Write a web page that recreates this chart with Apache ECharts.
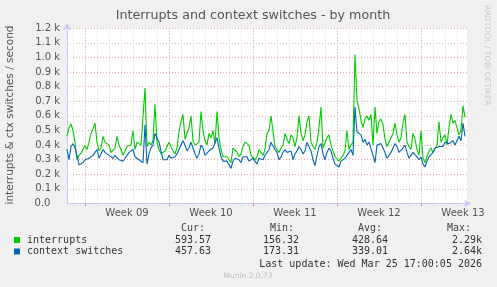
<!DOCTYPE html>
<html>
<head>
<meta charset="utf-8">
<script src="https://cdn.jsdelivr.net/npm/echarts@6/dist/echarts.min.js"></script>
<style>
html,body{margin:0;padding:0;background:#f0f0f0;}
#chart{width:497px;height:287px;}
</style>
</head>
<body>
<div id="chart"></div>
<script>
// ---- data (one sample per ~4 hours, ~33 days) ----
const interrupts = [
460,520,545,500,420,300,330,345,370,395,370,420,480,510,550,420,360,380,460,420,
430,400,350,340,380,460,400,370,330,360,390,385,400,500,370,420,430,400,410,790,
390,420,400,430,680,420,370,340,345,360,370,420,410,360,340,380,490,560,610,440,
440,520,600,430,400,390,420,630,500,430,400,480,450,500,410,630,450,370,320,330,
320,300,280,380,370,350,320,340,390,420,410,400,330,340,300,320,370,380,330,370,
480,500,600,590,390,380,350,380,400,480,440,410,470,450,390,450,600,480,430,470,
560,600,420,390,370,420,520,660,380,390,450,470,400,360,320,310,290,310,330,360,
500,370,400,420,1020,700,650,570,520,580,600,570,610,400,660,480,560,580,540,440,
390,380,450,480,550,470,420,450,550,610,420,390,370,480,440,370,330,500,310,280,
320,360,380,350,360,400,560,420,450,470,400,520,610,550,570,560,470,500,670,590
];
const contextSwitches = [
370,300,390,410,380,330,265,265,280,300,300,310,320,330,350,370,310,300,370,350,
360,330,320,310,330,340,300,290,290,310,330,350,360,370,320,330,300,310,280,540,
270,340,380,400,480,470,420,360,300,300,300,330,310,300,320,340,370,400,430,400,
360,380,420,380,340,310,340,400,380,330,320,360,370,380,390,450,380,320,290,290,
290,280,240,290,310,300,300,280,320,310,320,290,280,310,290,270,310,320,300,330,
350,370,420,410,370,350,300,320,350,370,350,340,360,300,340,360,390,370,340,360,
420,410,360,300,260,330,390,410,340,300,350,380,360,310,270,260,250,290,300,310,
300,350,370,330,660,490,480,470,420,440,400,420,410,330,280,400,400,410,380,350,
310,320,350,380,410,390,350,340,380,400,350,310,310,350,350,320,300,320,270,250,
290,320,330,350,380,370,390,400,390,420,430,410,420,430,400,410,460,430,550,460
];
const weekLabels = ['Week 09','Week 10','Week 11','Week 12','Week 13'];
const weekLabelIdx = [30,72,114,156,198];
const weekStartIdx = [9,51,93,135,177];
const seriesNames = ['interrupts','context switches'];
const statHeaders = ['Cur:','Min:','Avg:','Max:'];
const statsInterrupts = ['593.57','156.32','428.64','2.29k'];
const statsContext = ['457.63','173.31','339.01','2.64k'];
const lastUpdate = 'Last update: Wed Mar 25 17:00:05 2026';

const nSlots = interrupts.length + 1;
const categories = Array.from({length: nSlots}, (_, i) => String(i));
const colors = ['#00cc00', '#0066b3'];

const chart = echarts.init(document.getElementById('chart'), null, {renderer: 'canvas'});
const sans = 'DejaVu Sans';
const statRight = [211, 299, 388, 482];
const headRight = [205, 294, 382, 471];

const graphics = [];
graphics.push({type:'text', x:10, y:115, rotation: Math.PI/2,
  style:{text:'interrupts & ctx switches / second', font:'10.5px "DejaVu Sans"', fill:'#555', textAlign:'center', textVerticalAlign:'middle'}});
graphics.push({type:'text', x:487, y:5, rotation: -Math.PI/2,
  style:{text:'RRDTOOL / TOBI OETIKER', font:'7.8px "DejaVu Sans"', fill:'#c8c8c8', textAlign:'left', textVerticalAlign:'middle'}});
statHeaders.forEach((h, k) => graphics.push({type:'text', x: headRight[k], y: 228,
  style:{text:h, font:'10px "DejaVu Sans Mono"', fill:'#444', textAlign:'right', textVerticalAlign:'middle'}}));
const rows = [statsInterrupts, statsContext];
rows.forEach((row, r) => {
  const y = 240 + r * 11.5;
  graphics.push({type:'rect', shape:{x:14, y:y-3, width:6, height:6}, style:{fill: colors[r]}});
  graphics.push({type:'text', x:27, y:y, style:{text: seriesNames[r], font:'10px "DejaVu Sans Mono"', fill:'#333', textAlign:'left', textVerticalAlign:'middle'}});
  row.forEach((v, k) => graphics.push({type:'text', x: statRight[k], y: y,
    style:{text:v, font:'10px "DejaVu Sans Mono"', fill:'#333', textAlign:'right', textVerticalAlign:'middle'}}));
});
graphics.push({type:'text', x:482, y:264, style:{text:lastUpdate, font:'10px "DejaVu Sans Mono"', fill:'#333', textAlign:'right', textVerticalAlign:'middle'}});
graphics.push({type:'text', x:248, y:276, style:{text:'Munin 2.0.73', font:'7.5px "DejaVu Sans"', fill:'#c0c0c0', textAlign:'center', textVerticalAlign:'middle'}});

const option = {
  backgroundColor: '#f0f0f0',
  animation: false,
  title: {
    text: 'Interrupts and context switches - by month',
    left: 248, top: 4, textAlign: 'center',
    textStyle: {fontFamily: sans, fontSize: 12.7, fontWeight: 'normal', color: '#555'}
  },
  grid: {left: 67, right: 30, top: 28.3, bottom: 83.5, show: true, backgroundColor: '#ffffff', borderWidth: 0},
  xAxis: [
    {
      type: 'category', data: categories, boundaryGap: false, position: 'bottom',
      axisLine: {show: true, lineStyle: {color: '#c8c8f0', width: 1}, symbol: ['none','arrow'], symbolSize: [6, 7], symbolOffset: [0, 4]},
      axisTick: {show: true, length: 3, interval: (i) => weekStartIdx.includes(i), lineStyle: {color: '#e09090'}},
      axisLabel: {show: true, interval: (i) => weekLabelIdx.includes(i), margin: 5,
        formatter: (v) => { const k = weekLabelIdx.indexOf(Number(v)); return k >= 0 ? weekLabels[k] : ''; },
        fontFamily: sans, fontSize: 10, color: '#555'},
      splitLine: {show: true, interval: (i) => i % 6 === 3, lineStyle: {color: '#d4d4d4', type: [1, 2], width: 1}}
    },
    {
      type: 'category', data: categories, boundaryGap: false, position: 'bottom',
      axisLine: {show: false}, axisTick: {show: false}, axisLabel: {show: false},
      splitLine: {show: true, interval: (i) => weekStartIdx.includes(i), lineStyle: {color: '#e6a8a8', type: [1, 2], width: 1}}
    }
  ],
  yAxis: {
    type: 'value', min: 0, max: 1200, interval: 100,
    axisLine: {show: true, lineStyle: {color: '#c8c8f0', width: 1}, symbol: ['none','arrow'], symbolSize: [6, 7], symbolOffset: [0, 5]},
    axisTick: {show: false},
    axisLabel: {margin: 7, fontFamily: sans, fontSize: 10, color: '#555',
      formatter: (v) => v === 0 ? '0.0   ' : (v / 1000).toFixed(1) + ' k'},
    splitLine: {show: true, lineStyle: {color: '#e6a8a8', type: [1, 2], width: 1}}
  },
  series: [
    {name: seriesNames[0], type: 'line', data: interrupts, xAxisIndex: 0, symbol: 'none', z: 3,
     lineStyle: {color: colors[0], width: 1.1}, itemStyle: {color: colors[0]}},
    {name: seriesNames[1], type: 'line', data: contextSwitches, xAxisIndex: 0, symbol: 'none', z: 4,
     lineStyle: {color: colors[1], width: 1.1}, itemStyle: {color: colors[1]}}
  ],
  graphic: graphics
};
chart.setOption(option);
</script>
</body>
</html>
